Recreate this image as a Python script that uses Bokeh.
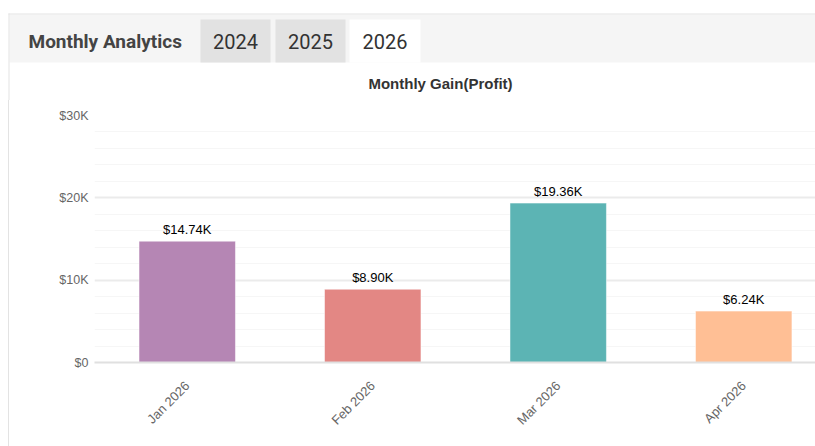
import math
from bokeh.plotting import figure
from bokeh.models import Range1d, FixedTicker, ColumnDataSource, Spacer
from bokeh.layouts import column, row
from bokeh.embed import file_html
from bokeh.resources import INLINE
from bokeh.core.properties import value

# ---- data ----
months = ["Jan 2026", "Feb 2026", "Mar 2026", "Apr 2026"]
profits = [14740, 8900, 19360, 6240]
colors = ["#b586b4", "#e38784", "#5cb4b4", "#ffbf95"]
y_ticks = [0, 10000, 20000, 30000]
y_tick_labels = ["$0", "$10K", "$20K", "$30K"]
y_minor = [2000, 4000, 6000, 8000, 12000, 14000, 16000, 18000, 22000, 24000, 26000, 28000]
tabs = ["2024", "2025", "2026"]
header_title = "Monthly Analytics"
chart_title = "Monthly Gain(Profit)"

BORDER = "#e3e3e3"

# ---- header (page coords, top-down) ----
hdr = figure(width=815, height=100, x_range=Range1d(0, 815), y_range=Range1d(100, 0),
             output_backend="svg", toolbar_location=None,
             x_axis_location=None, y_axis_location=None, min_border=0)
hdr.grid.visible = False
hdr.outline_line_color = None
hdr.background_fill_color = "white"
hdr.border_fill_color = "white"
hdr.quad(left=[9], right=[815], top=[14], bottom=[62], fill_color="#f5f5f5", line_color=None)
tab_left = [200, 275, 349]
tab_right = [270, 345, 420]
tab_fill = ["#e2e2e2", "#e2e2e2", "#ffffff"]
hdr.quad(left=tab_left, right=tab_right, top=[19] * 3, bottom=[62] * 3,
         fill_color=tab_fill, line_color=None)
hdr.segment(x0=[8], y0=[13.5], x1=[815], y1=[13.5], line_color=BORDER, line_width=1)
hdr.segment(x0=[8.5], y0=[13], x1=[8.5], y1=[100], line_color=BORDER, line_width=1)
hdr.text(x=[28], y=[41], text=[header_title], text_font=value("Roboto"), text_font_style="bold",
         text_font_size="19px", text_color="#444444", text_baseline="middle", text_align="left")
hdr.text(x=[(a + b) / 2 for a, b in zip(tab_left, tab_right)], y=[41] * 3, text=tabs,
         text_font=value("Roboto"), text_font_size="20px", text_color="#333333",
         text_baseline="middle", text_align="center")
hdr.text(x=[440], y=[83], text=[chart_title], text_font=value("Liberation Sans"),
         text_font_style="bold", text_font_size="15px", text_color="#333333",
         text_baseline="middle", text_align="center")

# ---- left border strip ----
strip = Spacer(width=9, height=346,
               styles={"background": "linear-gradient(to right, #ffffff 0px, #ffffff 8px, "
                                     "#e3e3e3 8px, #e3e3e3 9px)"})

# ---- chart ----
idx = list(range(len(months)))
src = ColumnDataSource(dict(x=idx, top=profits, color=colors,
                            label=[f"${v / 1000:.2f}K" for v in profits]))

p = figure(width=806, height=346, x_range=Range1d(-0.5, 3.387), y_range=Range1d(0, 30000),
           output_backend="svg", toolbar_location=None,
           min_border_left=85, min_border_right=0, min_border_top=15, min_border_bottom=84)
p.outline_line_color = None
p.border_fill_color = "white"
p.background_fill_color = "white"

p.vbar(x="x", top="top", width=0.52, fill_color="color", line_color="white",
       line_alpha=0.5, line_width=1, source=src)
p.text(x="x", y="top", text="label", source=src, text_font=value("Liberation Sans"),
       text_font_size="13px", text_color="#000000", text_align="center",
       text_baseline="alphabetic", y_offset=-12)

p.xgrid.visible = False
p.yaxis.ticker = FixedTicker(ticks=y_ticks, minor_ticks=y_minor)
p.ygrid.grid_line_color = "#ebebeb"
p.ygrid.grid_line_width = 2
p.ygrid.minor_grid_line_color = "#f6f6f6"
p.ygrid.minor_grid_line_width = 1

p.yaxis.major_label_overrides = {t: l for t, l in zip(y_ticks, y_tick_labels)}
p.yaxis.axis_line_color = None
p.yaxis.major_tick_line_color = None
p.yaxis.minor_tick_line_color = None
p.yaxis.major_tick_out = 0
p.yaxis.minor_tick_out = 0
p.yaxis.major_label_standoff = 6
p.yaxis.major_label_text_font = "Liberation Sans"
p.yaxis.major_label_text_font_size = "12.5px"
p.yaxis.major_label_text_color = "#666666"

p.xaxis.ticker = FixedTicker(ticks=idx)
p.xaxis.major_label_overrides = {i: m for i, m in zip(idx, months)}
p.xaxis.major_label_orientation = math.pi / 4
p.xaxis.axis_line_color = "#e0e0e0"
p.xaxis.axis_line_width = 2
p.xaxis.major_tick_line_color = None
p.xaxis.minor_tick_line_color = None
p.xaxis.major_tick_out = 0
p.xaxis.minor_tick_out = 0
p.xaxis.major_label_standoff = 21
p.xaxis.major_label_text_font = "Liberation Sans"
p.xaxis.major_label_text_font_size = "13px"
p.xaxis.major_label_text_color = "#666666"

layout = column(hdr, row(strip, p))
open("out.html", "w").write(file_html(layout, INLINE))
